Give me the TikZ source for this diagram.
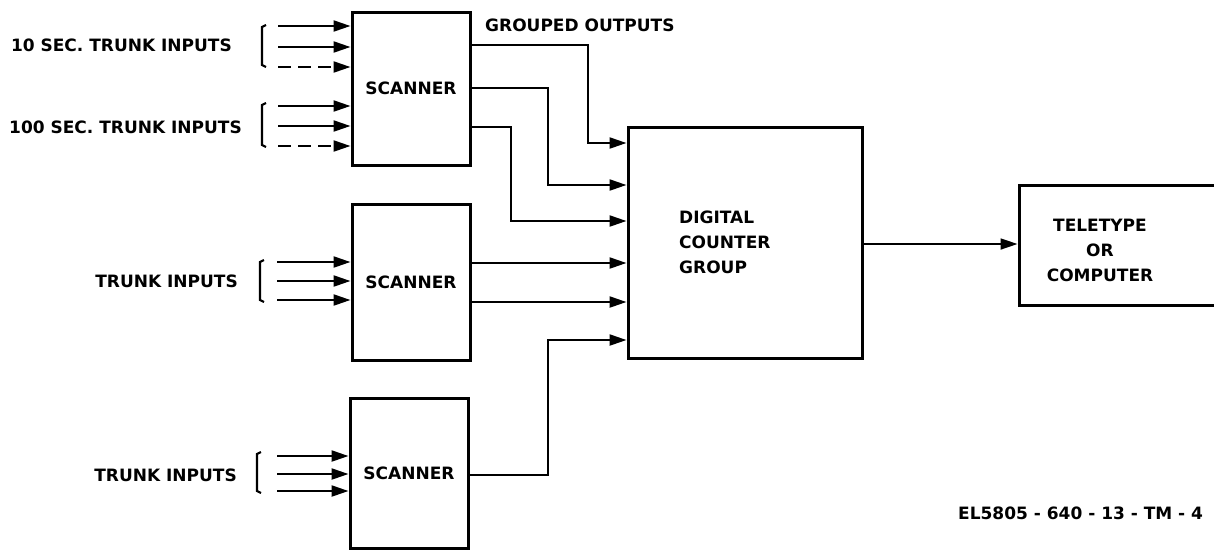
\documentclass[tikz,border=0pt]{standalone}
\usepackage{fontspec}
\setmainfont{DejaVu Sans}
\usetikzlibrary{arrows.meta}
\begin{document}
\begin{tikzpicture}[x=1pt,y=-1pt,
  box/.style={draw,line width=3pt,rectangle,inner sep=0pt},
  lbl/.style={font=\fontsize{17}{25}\selectfont\bfseries,inner sep=0pt},
  feed/.style={line width=2.2pt,-{Triangle[length=17pt,width=11pt]}},
  dfeed/.style={feed,dash pattern=on 13pt off 7pt},
  brk/.style={line width=2.2pt}]
\clip (0,0) rectangle (1214,550);
\fill[white] (0,0) rectangle (1214,550);
% boxes
\node[box,lbl,minimum width=118pt,minimum height=153pt] (s1) at (411,88.5) {SCANNER};
\node[box,lbl,minimum width=118pt,minimum height=156pt] (s2) at (411,282) {SCANNER};
\node[box,lbl,minimum width=118pt,minimum height=150pt] (s3) at (409,473) {SCANNER};
\node[box,minimum width=234pt,minimum height=231pt] (c) at (745,242.5) {};
\node[lbl,anchor=west,align=left] (ct) at (679,242) {DIGITAL\\COUNTER\\GROUP};
\node[box,minimum width=221pt,minimum height=120pt] (t) at (1129.5,245) {};
\node[lbl,align=center] (tt) at (1100,250) {TELETYPE\\OR\\COMPUTER};
% labels
\node[lbl,anchor=east] (l1) at (232,45) {10 SEC. TRUNK INPUTS};
\node[lbl,anchor=east] (l2) at (242,127) {100 SEC. TRUNK INPUTS};
\node[lbl,anchor=east] (l3) at (238,281) {TRUNK INPUTS};
\node[lbl,anchor=east] (l4) at (237,475) {TRUNK INPUTS};
\node[lbl,anchor=west] (go) at (485,25) {GROUPED OUTPUTS};
\node[lbl,anchor=west] (id) at (958,513) {EL5805 - 640 - 13 - TM - 4};
% brackets
\draw[brk] (266,25) -- (262,27) -- (262,65) -- (266,67);
\draw[brk] (266,103) -- (262,105) -- (262,145) -- (266,147);
\draw[brk] (264,260) -- (260,262) -- (260,300) -- (264,302);
\draw[brk] (261,452) -- (257,454) -- (257,491) -- (261,493);
% input arrows
\foreach \y [count=\i] in {26,47,106,126}{
  \coordinate (a\i) at (278,\y);
  \draw[feed] (a\i) -- (a\i -| s1.west);}
\foreach \y [count=\i] in {67,146}{
  \coordinate (d\i) at (278,\y);
  \draw[dfeed] (d\i) -- (d\i -| s1.west);}
\foreach \y [count=\i] in {262,281,300}{
  \coordinate (b\i) at (277,\y);
  \draw[feed] (b\i) -- (b\i -| s2.west);}
\foreach \y [count=\i] in {456,474,491}{
  \coordinate (e\i) at (277,\y);
  \draw[feed] (e\i) -- (e\i -| s3.west);}
% grouped outputs
\draw[feed] (s1.east |- 0,45) -| (588,143) -- (c.west |- 0,143);
\draw[feed] (s1.east |- 0,88) -| (548,185) -- (c.west |- 0,185);
\draw[feed] (s1.east |- 0,127) -| (511,221) -- (c.west |- 0,221);
\draw[feed] (s2.east |- 0,263) -- (c.west |- 0,263);
\draw[feed] (s2.east |- 0,302) -- (c.west |- 0,302);
\draw[feed] (s3.east |- 0,475) -| (548,340) -- (c.west |- 0,340);
\draw[feed,line width=1.8pt] (c.east |- 0,244) -- (t.west |- 0,244);
\end{tikzpicture}
\end{document}
